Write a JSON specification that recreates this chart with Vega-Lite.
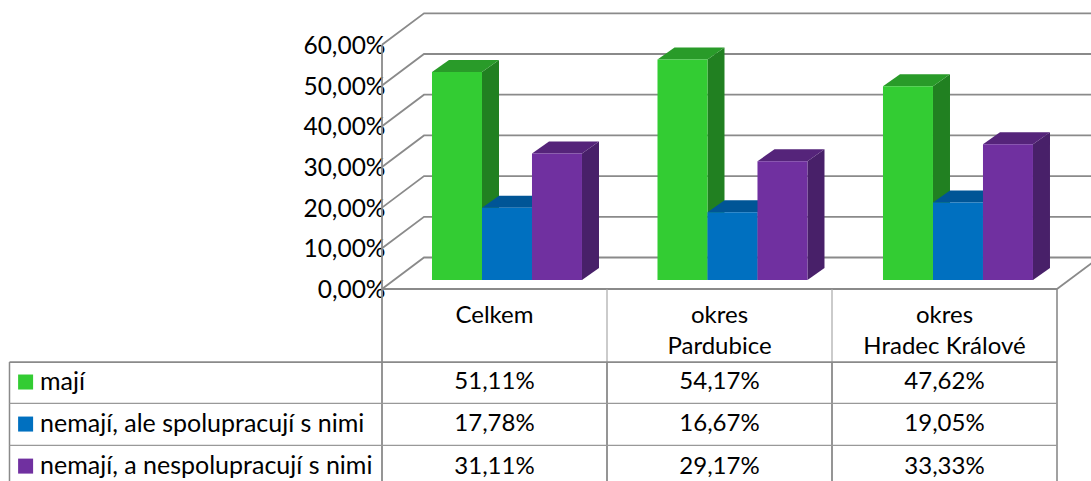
{"$schema":"https://vega.github.io/schema/vega-lite/v6.json","width":1091,"height":481,"padding":0,"autosize":{"type":"none"},"background":"white","config":{"view":{"stroke":null},"font":"Lato"},
"datasets":{"d":[
{"okres":"Celkem","serie":"mají","hodnota":51.11},
{"okres":"Celkem","serie":"nemají, ale spolupracují s nimi","hodnota":17.78},
{"okres":"Celkem","serie":"nemají, a nespolupracují s nimi","hodnota":31.11},
{"okres":"okres\nPardubice","serie":"mají","hodnota":54.17},
{"okres":"okres\nPardubice","serie":"nemají, ale spolupracují s nimi","hodnota":16.67},
{"okres":"okres\nPardubice","serie":"nemají, a nespolupracují s nimi","hodnota":29.17},
{"okres":"okres\nHradec Králové","serie":"mají","hodnota":47.62},
{"okres":"okres\nHradec Králové","serie":"nemají, ale spolupracují s nimi","hodnota":19.05},
{"okres":"okres\nHradec Králové","serie":"nemají, a nespolupracují s nimi","hodnota":33.33}],
"g":[{"mrizka":0},{"mrizka":10},{"mrizka":20},{"mrizka":30},{"mrizka":40},{"mrizka":50},{"mrizka":60}],
"f":[{"ram":"a"}]},
"encoding":{
"x":{"type":"quantitative","scale":{"domain":[-1.6978,3.1511],"nice":false,"zero":false},"axis":null},
"y":{"type":"quantitative","scale":{"domain":[-47.17,71.01],"nice":false,"zero":false},"axis":{"values":[0,10,20,30,40,50,60],"orient":"left","offset":-382,"domain":false,"ticks":false,"grid":false,"title":null,"labelPadding":-3,"labelOffset":1.5,"labelFont":"Lato","labelFontSize":24.5,"labelColor":"#000000","labelExpr":"replace(format(datum.value,'.2f'),'.',',')+'%'"}}},
"layer":[
{"data":{"name":"g"},"transform":[{"calculate":"[0,0.18667,3.18667]","as":"px"},{"flatten":["px"]},{"calculate":"datum.mrizka+(datum.px>0?7.74:0)","as":"py"}],
"mark":{"type":"line","stroke":"#8a8a8a","strokeWidth":1.8,"clip":true},
"encoding":{"x":{"field":"px","type":"quantitative"},"y":{"field":"py","type":"quantitative"},"detail":{"field":"mrizka"}}},
{"data":{"name":"f"},"mark":{"type":"rule","stroke":"#8a8a8a","strokeWidth":1.8},"encoding":{"x":{"datum":0},"y":{"datum":60},"y2":{"datum":-47.17}}},
{"data":{"name":"f"},"mark":{"type":"rule","stroke":"#8a8a8a","strokeWidth":2},"encoding":{"x":{"datum":0},"x2":{"datum":3},"y":{"datum":0}}},
{"data":{"name":"f"},"mark":{"type":"rule","stroke":"#8a8a8a","strokeWidth":1.8},"encoding":{"x":{"datum":3},"x2":{"datum":3.1867},"y":{"datum":0},"y2":{"datum":7.74}}},
{"data":{"name":"d"},"transform":[
{"calculate":"(datum.okres=='Celkem'?0:(indexof(datum.okres,'Pardubice')>=0?1:2))","as":"c"},
{"calculate":"indexof(['mají','nemají, ale spolupracují s nimi','nemají, a nespolupracují s nimi'],datum.serie)","as":"s"},
{"calculate":"datum.c*1.0022+0.2222+datum.s*0.2222","as":"x0"},
{"calculate":"datum.hodnota+2.21","as":"top"},
{"calculate":"[0,1]","as":"t"},{"flatten":["t"]},
{"calculate":"datum.x0+0.2222+datum.t*0.0756","as":"sx"},
{"calculate":"datum.top+datum.t*2.95","as":"sy"},
{"calculate":"2.21+datum.t*2.95","as":"sy2"},
{"calculate":"datum.s+'s'","as":"tone"}],
"mark":{"type":"area","interpolate":"linear"},
"encoding":{"x":{"field":"sx","type":"quantitative"},"y":{"field":"sy","type":"quantitative","stack":null},"y2":{"field":"sy2"},"detail":{"field":"okres"},"color":{"field":"tone","type":"nominal","legend":null,"scale":{"domain":["0f","1f","2f","0t","1t","2t","0s","1s","2s"],"range":["#33CC33","#0070C0","#7030A0","#299B29","#005596","#55247A","#218021","#004A85","#482069"]}}}},
{"data":{"name":"d"},"transform":[
{"calculate":"(datum.okres=='Celkem'?0:(indexof(datum.okres,'Pardubice')>=0?1:2))","as":"c"},
{"calculate":"indexof(['mají','nemají, ale spolupracují s nimi','nemají, a nespolupracují s nimi'],datum.serie)","as":"s"},
{"calculate":"datum.c*1.0022+0.2222+datum.s*0.2222","as":"x0"},
{"calculate":"datum.hodnota+2.21","as":"top"},
{"calculate":"[0,1]","as":"t"},{"flatten":["t"]},
{"calculate":"datum.x0+datum.t*0.0756","as":"tx"},
{"calculate":"datum.tx+0.2222","as":"tx2"},
{"calculate":"datum.top+datum.t*2.95","as":"ty"},
{"calculate":"datum.s+'t'","as":"tone"}],
"mark":{"type":"area","orient":"horizontal","interpolate":"linear"},
"encoding":{"y":{"field":"ty","type":"quantitative","stack":null},"x":{"field":"tx","type":"quantitative","stack":null},"x2":{"field":"tx2"},"detail":{"field":"okres"},"color":{"field":"tone","type":"nominal","legend":null}}},
{"data":{"name":"d"},"transform":[
{"calculate":"(datum.okres=='Celkem'?0:(indexof(datum.okres,'Pardubice')>=0?1:2))","as":"c"},
{"calculate":"indexof(['mají','nemají, ale spolupracují s nimi','nemají, a nespolupracují s nimi'],datum.serie)","as":"s"},
{"calculate":"datum.c*1.0022+0.2222+datum.s*0.2222","as":"x0"},
{"calculate":"datum.x0+0.2222","as":"x1"},
{"calculate":"datum.hodnota+2.21","as":"top"},
{"calculate":"2.21","as":"bot"},
{"calculate":"datum.s+'f'","as":"tone"}],
"mark":{"type":"rect"},
"encoding":{"x":{"field":"x0","type":"quantitative"},"x2":{"field":"x1"},"y":{"field":"top","type":"quantitative"},"y2":{"field":"bot"},"color":{"field":"tone","type":"nominal","legend":null}}},
{"data":{"name":"f"},"mark":{"type":"rule","stroke":"#a8a8a8","strokeWidth":1.2},"encoding":{"x":{"datum":1},"y":{"datum":0},"y2":{"datum":-17.94}}},
{"data":{"name":"f"},"mark":{"type":"rule","stroke":"#a8a8a8","strokeWidth":1.2},"encoding":{"x":{"datum":2},"y":{"datum":0},"y2":{"datum":-17.94}}},
{"data":{"name":"f"},"mark":{"type":"rule","stroke":"#8a8a8a","strokeWidth":1.6},"encoding":{"x":{"datum":3},"y":{"datum":0},"y2":{"datum":-47.17}}},
{"data":{"name":"f"},"mark":{"type":"rule","stroke":"#8a8a8a","strokeWidth":1.8},"encoding":{"x":{"datum":1},"y":{"datum":-17.94},"y2":{"datum":-47.17}}},
{"data":{"name":"f"},"mark":{"type":"rule","stroke":"#8a8a8a","strokeWidth":1.8},"encoding":{"x":{"datum":2},"y":{"datum":-17.94},"y2":{"datum":-47.17}}},
{"data":{"name":"f"},"mark":{"type":"rule","stroke":"#8a8a8a","strokeWidth":1.5},"encoding":{"x":{"datum":-1.6556},"y":{"datum":-17.94},"y2":{"datum":-47.17}}},
{"data":{"name":"f"},"mark":{"type":"rule","stroke":"#8a8a8a","strokeWidth":1.8},"encoding":{"x":{"datum":-1.6556},"x2":{"datum":3},"y":{"datum":-17.94}}},
{"data":{"name":"f"},"mark":{"type":"rule","stroke":"#999999","strokeWidth":1.3},"encoding":{"x":{"datum":-1.6556},"x2":{"datum":3},"y":{"datum":-28.1}}},
{"data":{"name":"f"},"mark":{"type":"rule","stroke":"#999999","strokeWidth":1.3},"encoding":{"x":{"datum":-1.6556},"x2":{"datum":3},"y":{"datum":-38.4}}},
{"data":{"name":"d"},"transform":[
{"filter":"datum.serie=='mají'"},
{"calculate":"(datum.okres=='Celkem'?0:(indexof(datum.okres,'Pardubice')>=0?1:2))+0.5","as":"cx"},
{"calculate":"-3.6","as":"hy"}],
"mark":{"type":"text","font":"Lato","fontSize":24,"color":"#000000","align":"center","baseline":"top","lineBreak":"\n","lineHeight":31},
"encoding":{"x":{"field":"cx","type":"quantitative"},"y":{"field":"hy","type":"quantitative"},"text":{"field":"okres"}}},
{"data":{"name":"d"},"transform":[
{"calculate":"(datum.okres=='Celkem'?0:(indexof(datum.okres,'Pardubice')>=0?1:2))+0.5","as":"cx"},
{"calculate":"indexof(['mají','nemají, ale spolupracují s nimi','nemají, a nespolupracují s nimi'],datum.serie)","as":"s"},
{"calculate":"-22.95-datum.s*10.33","as":"ry"},
{"calculate":"replace(format(datum.hodnota,'.2f'),'.',',')+'%'","as":"lab"}],
"mark":{"type":"text","font":"Lato","fontSize":24,"color":"#000000","align":"center","baseline":"middle"},
"encoding":{"x":{"field":"cx","type":"quantitative"},"y":{"field":"ry","type":"quantitative"},"text":{"field":"lab"}}},
{"data":{"name":"d"},"transform":[
{"filter":"datum.okres=='Celkem'"},
{"calculate":"indexof(['mají','nemají, ale spolupracují s nimi','nemají, a nespolupracují s nimi'],datum.serie)","as":"s"},
{"calculate":"-22.85-datum.s*10.33","as":"ry"},
{"calculate":"-1.52","as":"lx"}],
"mark":{"type":"text","font":"Lato","fontSize":25,"color":"#000000","align":"left","baseline":"middle"},
"encoding":{"x":{"field":"lx","type":"quantitative"},"y":{"field":"ry","type":"quantitative"},"text":{"field":"serie"}}},
{"data":{"name":"d"},"transform":[
{"filter":"datum.okres=='Celkem'"},
{"calculate":"indexof(['mají','nemají, ale spolupracují s nimi','nemají, a nespolupracují s nimi'],datum.serie)","as":"s"},
{"calculate":"-22.85-datum.s*10.33","as":"ry"},
{"calculate":"-1.584","as":"lx"},
{"calculate":"datum.s+'f'","as":"tone"}],
"mark":{"type":"point","shape":"square","filled":true,"size":225,"opacity":1},
"encoding":{"x":{"field":"lx","type":"quantitative"},"y":{"field":"ry","type":"quantitative"},"color":{"field":"tone","type":"nominal","legend":null}}}
]}
